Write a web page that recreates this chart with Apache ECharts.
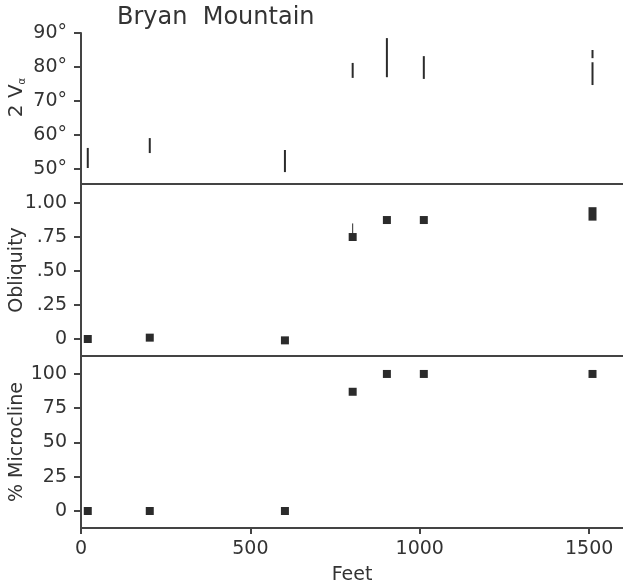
<!DOCTYPE html>
<html><head><meta charset="utf-8">
<script src="https://cdn.jsdelivr.net/npm/echarts@6/dist/echarts.min.js"></script>
<style>html,body{margin:0;padding:0;background:#fff}#c{width:623px;height:583px}</style>
</head><body><div id="c"></div>
<script>
// Optic angle 2Va ranges (degrees) by distance (feet)
const vaFeet = [20, 203, 602, 802, 903, 1012, 1510, 1510];
const vaLow  = [50.3, 54.7, 49.1, 76.8, 77.0, 76.5, 74.7, 82.6];
const vaHigh = [56.2, 59.1, 55.6, 81.2, 88.5, 83.2, 81.4, 85.0];

// Triclinic obliquity (low/high of the measured spread)
const obFeet = [20, 203, 602, 802, 903, 1012, 1510];
const obLow  = [0, 0.01, -0.01, 0.75, 0.875, 0.875, 0.90];
const obHigh = [0, 0.01, -0.01, 0.75, 0.875, 0.875, 0.94];
const obTailFeet = [802];
const obTailTop = [0.85];

// Percentage of microcline
const mcFeet = [20, 203, 602, 802, 903, 1012, 1510];
const mcPct  = [0, 0, 0, 87, 100, 100, 100];

const feetTicks = [0, 500, 1000, 1500];
const vaTicks = [50, 60, 70, 80, 90];
const obTicks = [0, 0.25, 0.5, 0.75, 1.0];
const obTickLabels = ['0', '.25', '.50', '.75', '1.00'];
const mcTicks = [0, 25, 50, 75, 100];

const ink = '#2b2b2b';
const axisInk = '#444';
const textInk = '#333';
const font = 'DejaVu Sans';

const vaData = vaFeet.map((f, i) => [f, vaLow[i], vaHigh[i]]);
const obData = obFeet.map((f, i) => [f, obLow[i], obHigh[i]]);
const obTailData = obTailFeet.map((f, i) => [f, obLow[obFeet.indexOf(f)], obTailTop[i]]);
const mcData = mcFeet.map((f, i) => [f, mcPct[i]]);

function xAxisFor(idx, showLabels) {
  return {
    type: 'value', gridIndex: idx, min: 0, max: 1600,
    axisLine: { show: true, onZero: false, lineStyle: { color: axisInk, width: 2 } },
    axisTick: { show: showLabels, customValues: feetTicks, length: 6, lineStyle: { color: axisInk, width: 2 } },
    axisLabel: { show: showLabels, customValues: feetTicks, formatter: v => String(v), margin: 12,
      color: textInk, fontFamily: font, fontSize: 19 },
    splitLine: { show: false },
    name: showLabels ? 'Feet' : '', nameLocation: 'middle', nameGap: 38, nameMoveOverlap: false,
    nameTextStyle: { color: textInk, fontFamily: font, fontSize: 19 }
  };
}

function yAxisFor(idx, min, max, ticks, fmt, name, gap, nameStyle) {
  return {
    type: 'value', gridIndex: idx, min: min, max: max,
    axisLine: { show: true, onZero: false, lineStyle: { color: axisInk, width: 2 } },
    axisTick: { show: true, customValues: ticks, length: 7, lineStyle: { color: axisInk, width: 2 } },
    axisLabel: { customValues: ticks, formatter: fmt, margin: 14, color: textInk, fontFamily: font, fontSize: 19 },
    splitLine: { show: false },
    name: name, nameLocation: 'middle', nameGap: gap, nameMoveOverlap: false,
    nameTextStyle: Object.assign({ color: textInk, fontFamily: font, fontSize: 19 }, nameStyle || {})
  };
}

const rangeLine = (w) => function (params, api) {
  const a = api.coord([api.value(0), api.value(1)]);
  const b = api.coord([api.value(0), api.value(2)]);
  return { type: 'line', shape: { x1: a[0], y1: a[1], x2: b[0], y2: b[1] }, style: { stroke: ink, lineWidth: w } };
};

const chart = echarts.init(document.getElementById('c'), null, { renderer: 'canvas' });
chart.setOption({
  animation: false,
  backgroundColor: '#fff',
  title: {
    text: 'Bryan  Mountain', left: 112, top: 1,
    textStyle: { color: textInk, fontFamily: font, fontSize: 24, fontWeight: 'normal' }
  },
  grid: [
    { left: 81, right: 0, top: 33, height: 151, outerBoundsMode: 'none' },
    { left: 81, right: 0, top: 184, height: 172, outerBoundsMode: 'none' },
    { left: 81, right: 0, top: 356, height: 172, outerBoundsMode: 'none' }
  ],
  xAxis: [xAxisFor(0, false), xAxisFor(1, false), xAxisFor(2, true)],
  yAxis: [
    yAxisFor(0, 45.6, 90, vaTicks, v => v + '°', '2 V{a|α}', 54, {
      fontSize: 20, padding: [0, 0, 0, 22],
      rich: { a: { fontSize: 10, fontFamily: font, color: textInk, verticalAlign: 'bottom', padding: [9, 0, 0, 0] } }
    }),
    yAxisFor(1, -0.125, 1.14, obTicks, v => obTickLabels[obTicks.indexOf(v)] || '', 'Obliquity', 54),
    yAxisFor(2, -12.4, 113.1, mcTicks, v => String(v), '% Microcline', 54)
  ],
  series: [
    { type: 'custom', xAxisIndex: 0, yAxisIndex: 0, data: vaData, renderItem: rangeLine(2) },
    { type: 'custom', xAxisIndex: 1, yAxisIndex: 1, data: obTailData, renderItem: rangeLine(1) },
    {
      type: 'custom', xAxisIndex: 1, yAxisIndex: 1, data: obData,
      renderItem: function (params, api) {
        const lo = api.coord([api.value(0), api.value(1)]);
        const hi = api.coord([api.value(0), api.value(2)]);
        const s = 8;
        return { type: 'rect', shape: { x: lo[0] - s / 2, y: hi[1] - s / 2, width: s, height: lo[1] - hi[1] + s }, style: { fill: ink } };
      }
    },
    {
      type: 'scatter', xAxisIndex: 2, yAxisIndex: 2, data: mcData,
      symbol: 'rect', symbolSize: 8, itemStyle: { color: ink, opacity: 1 }
    }
  ]
});
</script>
</body></html>
